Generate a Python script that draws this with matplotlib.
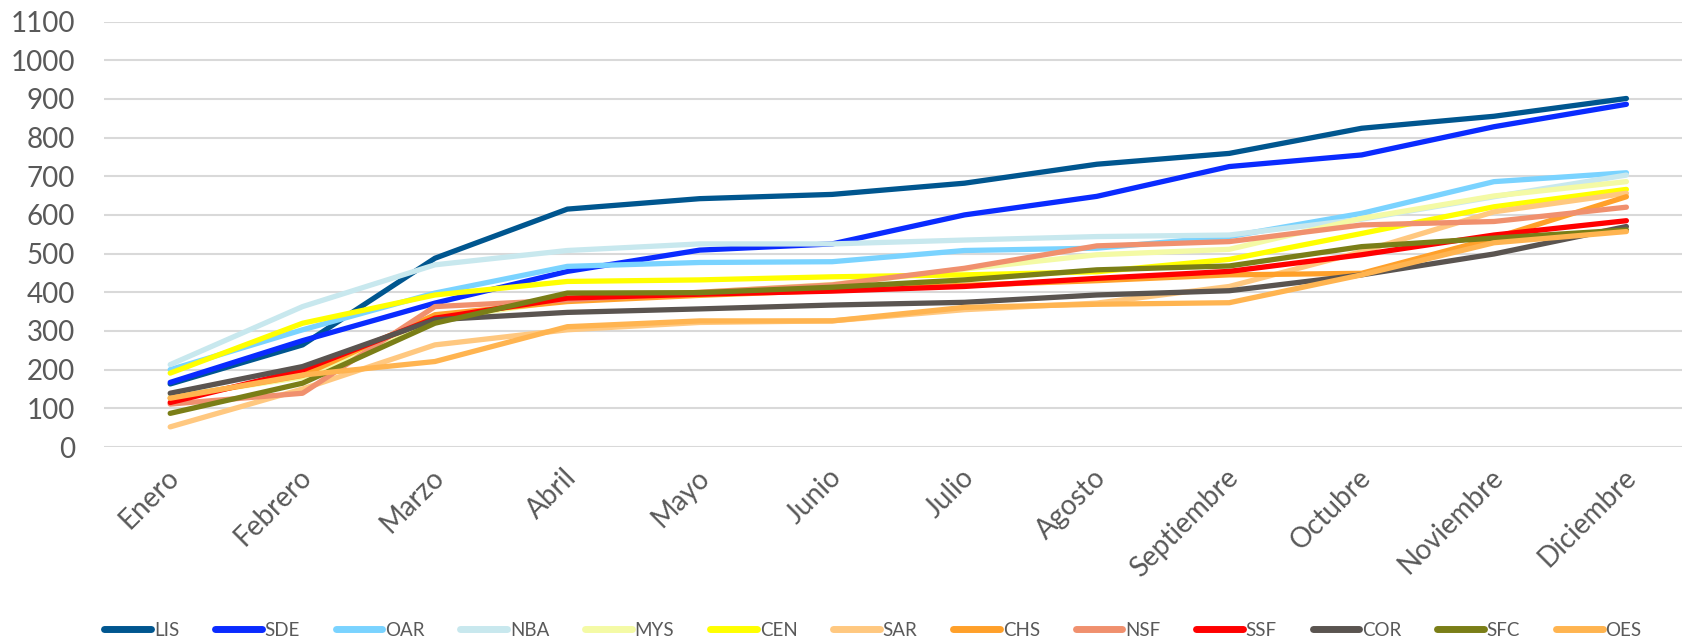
import matplotlib
matplotlib.use("Agg")
import matplotlib.pyplot as plt
from matplotlib.transforms import ScaledTranslation

months = ["Enero", "Febrero", "Marzo", "Abril", "Mayo", "Junio", "Julio",
          "Agosto", "Septiembre", "Octubre", "Noviembre", "Diciembre"]

LIS = [163, 264, 488, 615, 642, 653, 682, 731, 759, 824, 855, 901]
SDE = [167, 275, 372, 454, 509, 525, 600, 648, 725, 755, 828, 886]
OAR = [200, 303, 398, 467, 477, 479, 508, 514, 544, 604, 686, 709]
NBA = [213, 363, 471, 508, 525, 525, 535, 544, 548, 589, 647, 703]
MYS = [130, 180, 330, 380, 400, 420, 460, 497, 511, 591, 649, 686]
CEN = [191, 320, 393, 428, 432, 440, 445, 453, 485, 552, 621, 666]
SAR = [52, 150, 264, 303, 322, 326, 355, 372, 415, 505, 608, 656]
CHS = [126, 185, 342, 376, 392, 405, 418, 430, 445, 449, 540, 647]
NSF = [111, 139, 363, 380, 400, 419, 462, 520, 531, 574, 583, 620]
SSF = [115, 199, 333, 385, 395, 403, 415, 436, 454, 497, 548, 585]
COR = [139, 208, 329, 348, 357, 367, 374, 393, 404, 445, 499, 570]
SFC = [87, 165, 320, 398, 399, 413, 432, 458, 468, 518, 540, 561]
OES = [126, 186, 221, 311, 326, 326, 361, 369, 373, 445, 528, 557]

series_names = ["LIS", "SDE", "OAR", "NBA", "MYS", "CEN", "SAR", "CHS",
                "NSF", "SSF", "COR", "SFC", "OES"]
series_vals = [LIS, SDE, OAR, NBA, MYS, CEN, SAR, CHS, NSF, SSF, COR, SFC, OES]
colors = ["#00568F", "#0A2BFF", "#7AD3FF", "#C8E8EE", "#F4FAA5", "#FFFF00",
          "#FFC880", "#FFA02A", "#F0906E", "#FF0000", "#5A5450", "#7A7E17",
          "#FFB450"]

plt.rcParams['font.family'] = ['Lato', 'DejaVu Sans']

fig = plt.figure(figsize=(16.82, 6.39), dpi=100)
ax = fig.add_axes([104 / 1682, 1 - 447 / 639, 1 - 104 / 1682, (447 - 21.5) / 639])

x = list(range(len(months)))
for name, vals, c in zip(series_names, series_vals, colors):
    ax.plot(x, vals, color=c, lw=3.8, label=name,
            solid_capstyle='round', solid_joinstyle='round')

ax.set_ylim(0, 1100)
ax.set_xlim(-0.5, 11.42)
ax.set_yticks(range(0, 1101, 100))
ax.set_xticks(x)
ax.set_xticklabels(months)
ax.grid(axis='y', color='#D9D9D9', lw=1.5)
ax.set_axisbelow(True)
for s in ax.spines.values():
    s.set_visible(False)
ax.tick_params(axis='both', length=0, colors='#595959')
ax.tick_params(axis='y', labelsize=20, pad=21)
ax.tick_params(axis='x', labelsize=20, pad=8)
for lab in ax.get_xticklabels():
    lab.set_rotation(45)
    lab.set_ha('right')
    lab.set_va('top')
    lab.set_rotation_mode('anchor')
    lab.set_transform(lab.get_transform() + ScaledTranslation(-0.04, -0.06, fig.dpi_scale_trans))

leg = fig.legend(loc='center', bbox_to_anchor=(0.519, 1 - 630 / 639),
                 ncol=13, frameon=False, fontsize=13.5, handlelength=2.5,
                 handletextpad=0.15, columnspacing=1.9, labelcolor='#595959')
for h in leg.get_lines():
    h.set_linewidth(5)
    h.set_solid_capstyle('round')

fig.savefig("out.png", dpi=100)
